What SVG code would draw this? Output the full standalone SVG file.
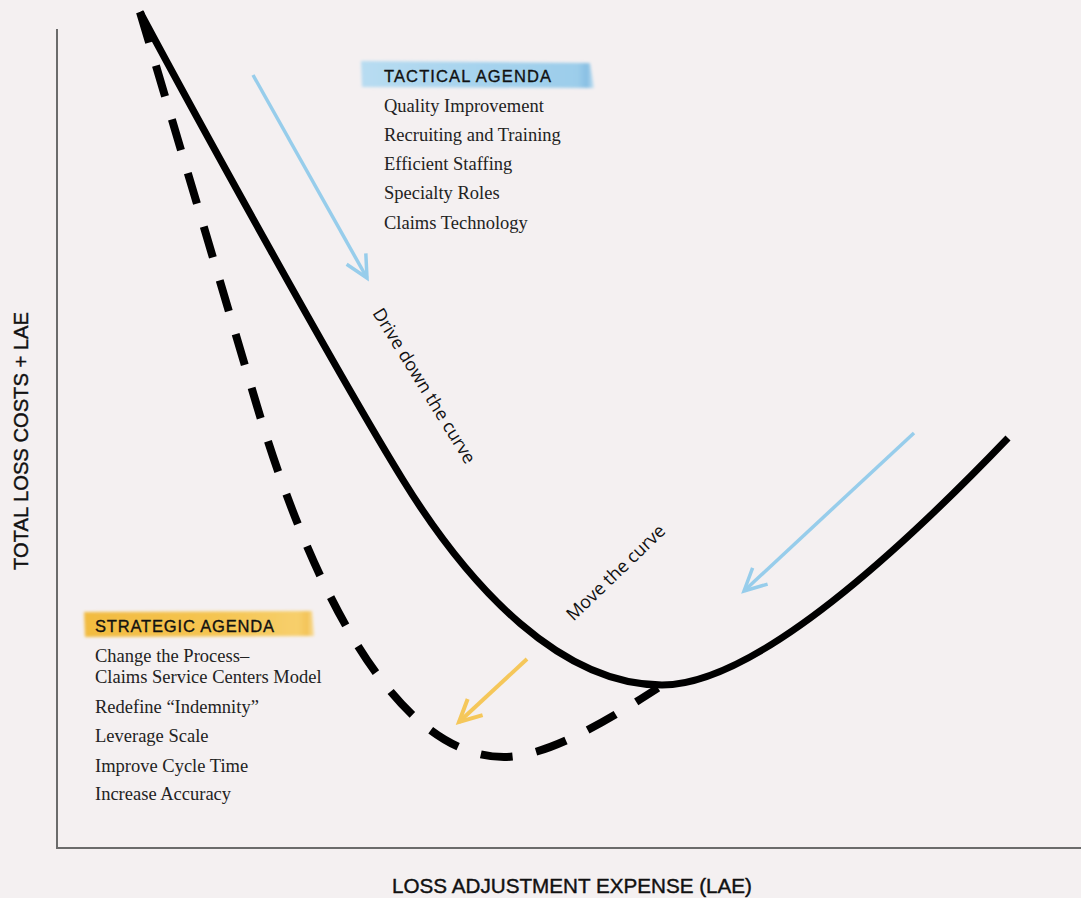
<svg xmlns="http://www.w3.org/2000/svg" width="1081" height="898" viewBox="0 0 1081 898">
<style>
.axis{stroke:#6b6b6b;stroke-width:2;fill:none}
.curve{stroke:#000;stroke-width:7;fill:none;stroke-linecap:butt;stroke-linejoin:round}
.dash{stroke:#000;stroke-width:8;fill:none;stroke-dasharray:32 24}
.head{font-family:"Liberation Sans",Arial,sans-serif;font-size:16.5px;fill:#111;stroke:#111;stroke-width:0.35}
.item{font-family:"Liberation Serif","Times New Roman",serif;font-size:18.5px;fill:#222}
.axlab{font-family:"Liberation Sans",Arial,sans-serif;font-size:20px;fill:#111;stroke:#111;stroke-width:0.4}
.note{font-family:"Open Sans","DejaVu Sans",sans-serif;font-size:18px;fill:#111}
.blue{stroke:#97cdeb;stroke-width:3.5;fill:none}
.yellow{stroke:#f5c75a;stroke-width:4;fill:none}
</style>
<defs>
<marker id="hb" markerUnits="userSpaceOnUse" markerWidth="40" markerHeight="40" viewBox="-30 -20 40 40" refX="0" refY="0" orient="auto">
<path d="M-22,-11 L0,0 L-22,11" fill="none" stroke="#97cdeb" stroke-width="3.5" stroke-linejoin="miter"/>
</marker>
<marker id="hy" markerUnits="userSpaceOnUse" markerWidth="40" markerHeight="40" viewBox="-30 -20 40 40" refX="0" refY="0" orient="auto">
<path d="M-22,-11 L0,0 L-22,11" fill="none" stroke="#f5c75a" stroke-width="4" stroke-linejoin="miter"/>
</marker>
<linearGradient id="gb" x1="0" y1="0" x2="1" y2="0">
<stop offset="0" stop-color="#b8dcf1"/>
<stop offset="0.5" stop-color="#a6d3ee"/>
<stop offset="0.93" stop-color="#9ccdea"/>
<stop offset="0.97" stop-color="#88bfe3"/>
<stop offset="1" stop-color="#c4e1f2"/>
</linearGradient>
<linearGradient id="gy" x1="0" y1="0" x2="1" y2="0">
<stop offset="0" stop-color="#f2bb40"/>
<stop offset="0.6" stop-color="#f5c552"/>
<stop offset="0.93" stop-color="#f7cf6c"/>
<stop offset="0.97" stop-color="#f3c458"/>
<stop offset="1" stop-color="#f8dc98"/>
</linearGradient>
<filter id="soft" x="-5%" y="-30%" width="110%" height="160%">
<feGaussianBlur stdDeviation="1.6"/>
</filter>
</defs>

<rect x="0" y="0" width="1081" height="898" fill="#f4f0f1"/>

<g id="axes">
<line class="axis" x1="57" y1="29" x2="57" y2="849"/>
<line class="axis" x1="56" y1="848" x2="1081" y2="848"/>
<text class="axlab" transform="translate(28,441) rotate(-90)" text-anchor="middle" textLength="258" lengthAdjust="spacingAndGlyphs">TOTAL LOSS COSTS + LAE</text>
<text class="axlab" x="572" y="893" text-anchor="middle" textLength="360" lengthAdjust="spacingAndGlyphs">LOSS ADJUSTMENT EXPENSE (LAE)</text>
</g>

<g id="curve-current">
<path class="curve" d="M140,12 C201,126 340,378 403,480 C471,590 562,685 662,685 C752,685 891,560 1008,438"/>
</g>

<g id="curve-target">
<path class="dash" d="M140,12 L257,406 C300,550 384,757 504,757 C550,757 616,715 658,688"/>
</g>

<g id="tactical-agenda">
<path d="M361,61 L590,63 L594,88 L362,87 Z" fill="url(#gb)" filter="url(#soft)"/>
<text class="head" x="384" y="82" textLength="167" lengthAdjust="spacing">TACTICAL AGENDA</text>
<text class="item" x="384" y="112">Quality Improvement</text>
<text class="item" x="384" y="141">Recruiting and Training</text>
<text class="item" x="384" y="170">Efficient Staffing</text>
<text class="item" x="384" y="199">Specialty Roles</text>
<text class="item" x="384" y="229">Claims Technology</text>
</g>

<g id="strategic-agenda">
<path d="M84,612 L312,611 L314,636 L85,637 Z" fill="url(#gy)" filter="url(#soft)"/>
<text class="head" x="95" y="632" textLength="179" lengthAdjust="spacing">STRATEGIC AGENDA</text>
<text class="item" x="95" y="662">Change the Process–</text>
<text class="item" x="95" y="683">Claims Service Centers Model</text>
<text class="item" x="95" y="713">Redefine “Indemnity”</text>
<text class="item" x="95" y="742">Leverage Scale</text>
<text class="item" x="95" y="772">Improve Cycle Time</text>
<text class="item" x="95" y="800">Increase Accuracy</text>
</g>

<g id="label-drive">
<text class="note" transform="translate(419,389) rotate(58.3)" text-anchor="middle">Drive down the curve</text>
</g>

<g id="label-move">
<text class="note" transform="translate(620,577) rotate(-43.8)" text-anchor="middle">Move the curve</text>
</g>

<g id="connectors">
<line class="blue" x1="253" y1="75" x2="367" y2="278" marker-end="url(#hb)"/>
<line class="blue" x1="914" y1="433" x2="744" y2="591" marker-end="url(#hb)"/>
<line class="yellow" x1="527" y1="659" x2="459" y2="722" marker-end="url(#hy)"/>
</g>
</svg>
